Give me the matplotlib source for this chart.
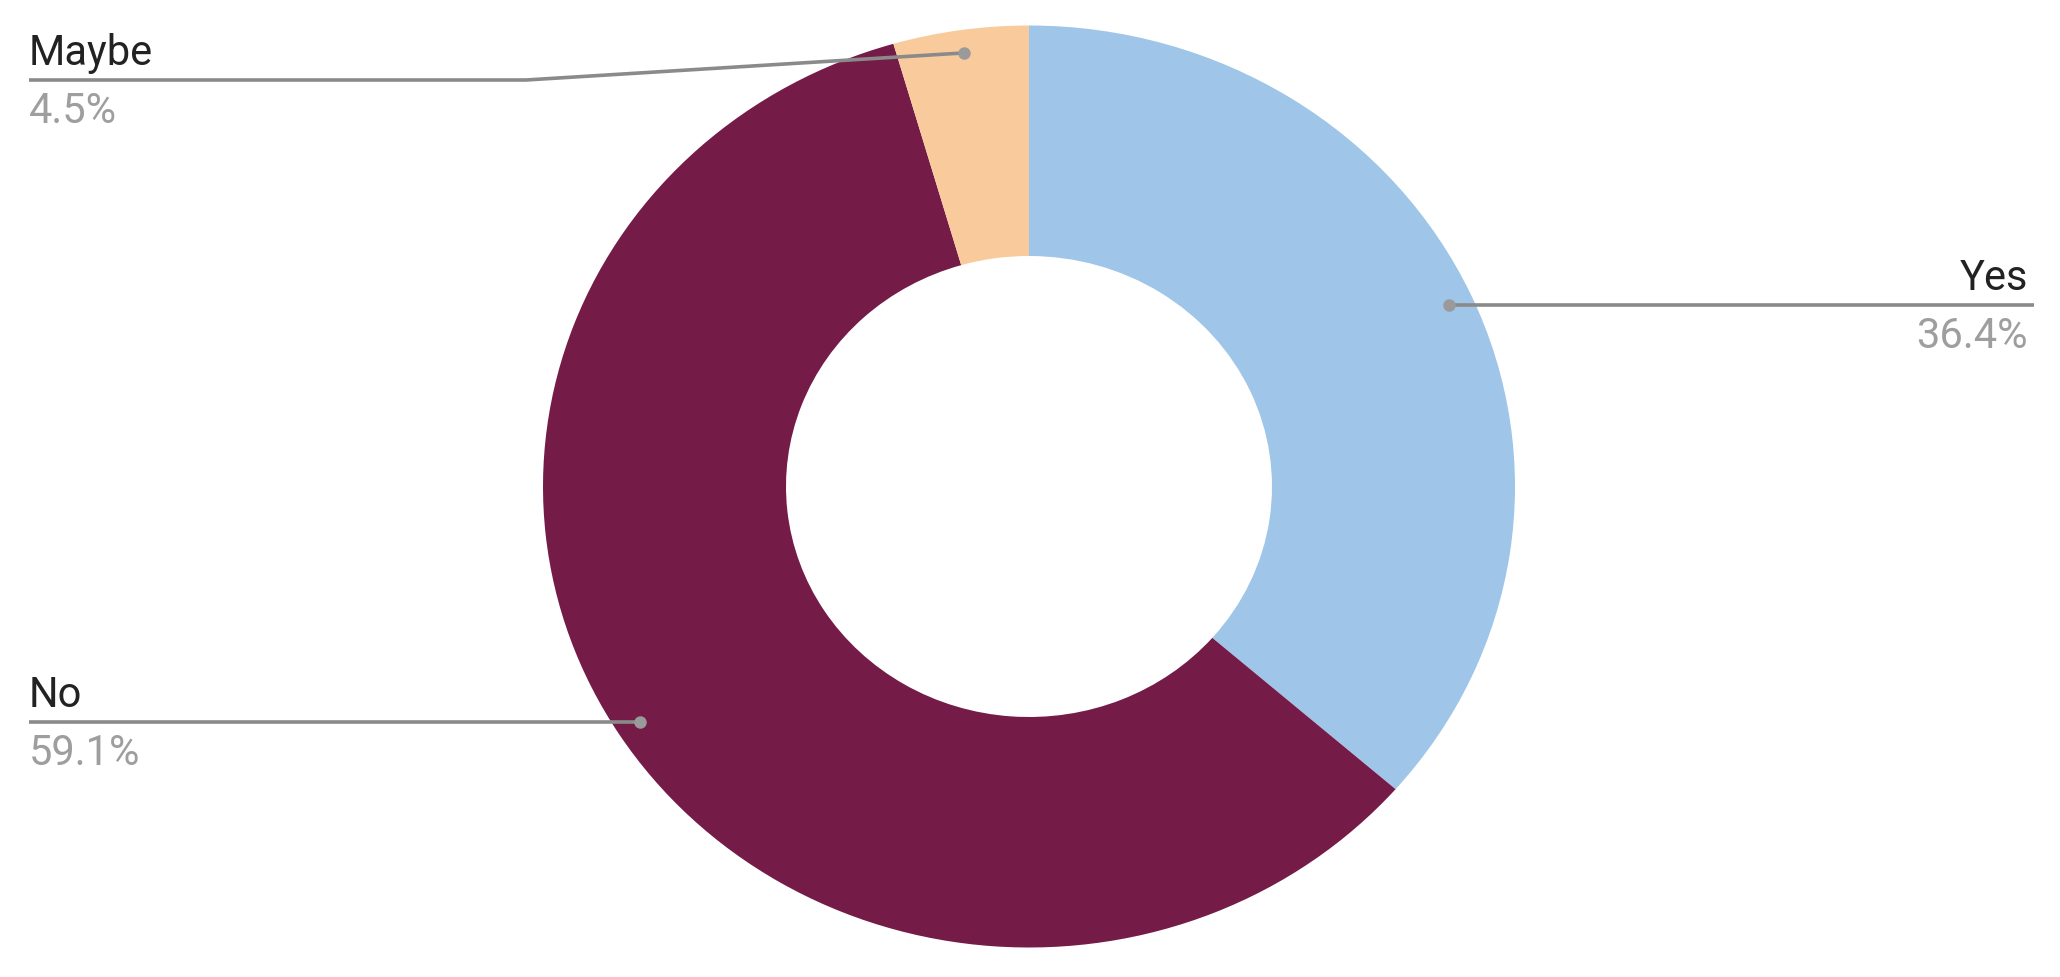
import numpy as np
import matplotlib
matplotlib.use("Agg")
import matplotlib.pyplot as plt

labels = ["Yes", "No", "Maybe"]
values = [36.4, 59.1, 4.5]
colors = ["#9fc5e8", "#741b47", "#f9cb9c"]

W, H = 2060, 978
CX, CY, RX, RY = 1029, 487.5, 486, 461   # donut centre / radii in pixels (image is stretched)

fig = plt.figure(figsize=(W / 100, H / 100), dpi=100)
fig.patch.set_facecolor("white")
ax = fig.add_axes([(CX - RX) / W, (H - CY - RY) / H, 2 * RX / W, 2 * RY / H])
ax.pie(values, colors=colors, startangle=90, counterclock=False,
       wedgeprops=dict(width=0.5, linewidth=0), radius=1.0)
ax.set_aspect("auto")
ax.set_xlim(-1, 1)
ax.set_ylim(-1, 1)
ax.axis("off")


def px(x, y):
    """pixel position -> data coords of the pie axes"""
    return (x - CX) / RX, (CY - y) / RY


line_kw = dict(color="#8a8a8a", lw=2.6, clip_on=False, solid_capstyle="butt")
name_kw = dict(fontsize=30, color="#222222", family=["Roboto", "DejaVu Sans"])
pct_kw = dict(fontsize=30, color="#9e9e9e", family=["Roboto", "DejaVu Sans"])

# wedge mid angles
total = sum(values)
start = 90.0
mids = []
for v in values:
    span = 360.0 * v / total
    mids.append(np.deg2rad(start - span / 2))
    start -= span

for lab, v, a in zip(labels, values, mids):
    ax_, ay_ = 0.95 * np.cos(a), 0.95 * np.sin(a)
    if lab == "Yes":
        lx, ly = px(2034, 0)[0], ay_
        ax.plot([ax_, lx], [ay_, ly], **line_kw)
        tx = px(2028, 0)[0]
        ax.text(tx, ly + 16 / RY, lab, ha="right", va="baseline", **name_kw)
        ax.text(tx, ly - 42 / RY, f"{v:.1f}%", ha="right", va="baseline", **pct_kw)
    elif lab == "No":
        lx, ly = px(29, 0)[0], ay_
        ax.plot([lx, ax_], [ly, ay_], **line_kw)
        ax.text(lx, ly + 16 / RY, lab, ha="left", va="baseline", **name_kw)
        ax.text(lx, ly - 42 / RY, f"{v:.1f}%", ha="left", va="baseline", **pct_kw)
    else:
        lx, ly = px(29, 81)
        ex = px(526, 81)[0]
        ax.plot([lx, ex, ax_], [ly, ly, ay_], **line_kw)
        ax.text(lx, ly + 16 / RY, lab, ha="left", va="baseline", **name_kw)
        ax.text(lx, ly - 42 / RY, f"{v:.1f}%", ha="left", va="baseline", **pct_kw)
    ax.plot([ax_], [ay_], marker="o", ms=9, color="#9a9a9a", mec="none",
            clip_on=False, zorder=5)

fig.savefig("out.png", dpi=100, facecolor="white")
